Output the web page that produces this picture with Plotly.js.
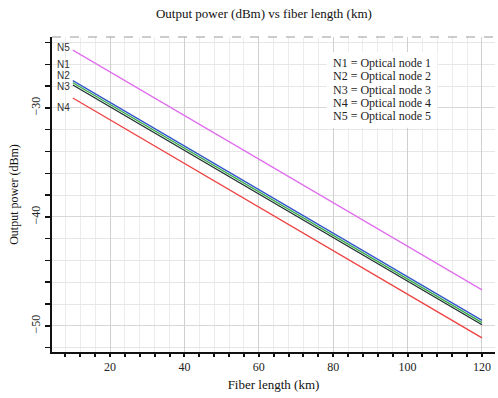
<!DOCTYPE html>
<html><head><meta charset="utf-8">
<script src="https://cdn.plot.ly/plotly-3.0.1.min.js"></script>
<style>body{margin:0;padding:0;background:#fff}#chart{width:498px;height:398px}</style>
</head><body><div id="chart"></div>
<script>
// Fiber length (km)
const fiberLength = [10, 60, 120];
// Output power (dBm) per optical node
const n1Power = [-27.5, -37.5, -49.5];
const n2Power = [-27.7, -37.7, -49.7];
const n3Power = [-27.9, -37.9, -49.9];
const n4Power = [-29.1, -39.1, -51.1];
const n5Power = [-24.7, -34.7, -46.7];
const seriesNames = ['N1', 'N2', 'N3', 'N4', 'N5'];
const seriesColors = ['#3355cc', '#33aa44', '#1f2f2f', '#ee4040', '#e070ee'];
const labelY = [-26.05, -27.0, -28.05, -30.0, -24.5];
const legendLines = ['N1 = Optical node 1', 'N2 = Optical node 2', 'N3 = Optical node 3', 'N4 = Optical node 4', 'N5 = Optical node 5'];

const allPower = [n1Power, n2Power, n3Power, n4Power, n5Power];
const traces = allPower.map((p, i) => ({
  x: fiberLength, y: p, type: 'scatter', mode: 'lines', name: seriesNames[i],
  line: {color: seriesColors[i], width: 1.3}, hoverinfo: 'skip'
}));

const serif = 'Liberation Serif, Times New Roman, serif';
const annotations = seriesNames.map((n, i) => ({
  x: 5.3, y: labelY[i], xref: 'x', yref: 'y', text: n, showarrow: false,
  xanchor: 'left', yanchor: 'middle', font: {family: 'Liberation Sans, Arial, sans-serif', size: 10, color: '#333'}
}));
// legend text block: white box then lines
const legendTop = 0.917, legendStep = 0.042;
const shapes = [
  {type: 'line', xref: 'paper', yref: 'paper', x0: 0, x1: 1, y0: 1, y1: 1,
   line: {color: '#999', width: 1, dash: 'dash'}},
  {type: 'rect', xref: 'paper', yref: 'paper', x0: 0.62, x1: 0.87, y0: legendTop - legendStep * 5 + 0.005, y1: legendTop + 0.035,
   fillcolor: '#ffffff', line: {width: 0}, layer: 'above'}
];
legendLines.forEach((t, i) => annotations.push({
  x: 0.63, y: legendTop - legendStep * i, xref: 'paper', yref: 'paper', xanchor: 'left', yanchor: 'middle',
  text: t, showarrow: false, font: {family: serif, size: 12, color: '#222'}
}));

const layout = {
  width: 498, height: 398,
  margin: {l: 52, r: 3, t: 37, b: 46},
  paper_bgcolor: '#fff', plot_bgcolor: '#fff',
  showlegend: false,
  title: {text: 'Output power (dBm) vs fiber length (km)', x: 0.53, xanchor: 'center', y: 0.965, yanchor: 'middle',
          font: {family: serif, size: 13, color: '#111'}},
  xaxis: {
    range: [4.4, 123.5], tick0: 0, dtick: 20,
    showline: true, linecolor: '#111', linewidth: 2,
    ticks: 'outside', ticklen: 3, tickcolor: '#111', tickwidth: 2,
    showgrid: true, gridcolor: '#cfcfcf', gridwidth: 1,
    minor: {dtick: 4, showgrid: true, gridcolor: '#ececec', ticks: 'outside', ticklen: 3, tickcolor: '#111', tickwidth: 2},
    zeroline: false,
    tickfont: {family: serif, size: 12, color: '#222'},
    title: {text: 'Fiber length (km)', font: {family: serif, size: 13, color: '#111'}, standoff: 6}
  },
  yaxis: {
    range: [-52.4, -23.5], tick0: 0, dtick: 10,
    showline: true, linecolor: '#111', linewidth: 2,
    ticks: 'outside', ticklen: 5, tickcolor: '#111', tickwidth: 1.5,
    showgrid: true, gridcolor: '#d8d8d8', gridwidth: 1,
    minor: {dtick: 2, showgrid: true, gridcolor: '#e6e6e6', ticks: 'outside', ticklen: 5, tickcolor: '#111', tickwidth: 1.5},
    zeroline: false, tickangle: -90,
    tickfont: {family: serif, size: 12, color: '#222'},
    title: {text: 'Output power (dBm)', font: {family: serif, size: 12, color: '#111'}, standoff: 8}
  },
  shapes: shapes,
  annotations: annotations
};
Plotly.newPlot('chart', traces, layout, {staticPlot: true, displayModeBar: false});
</script></body></html>
